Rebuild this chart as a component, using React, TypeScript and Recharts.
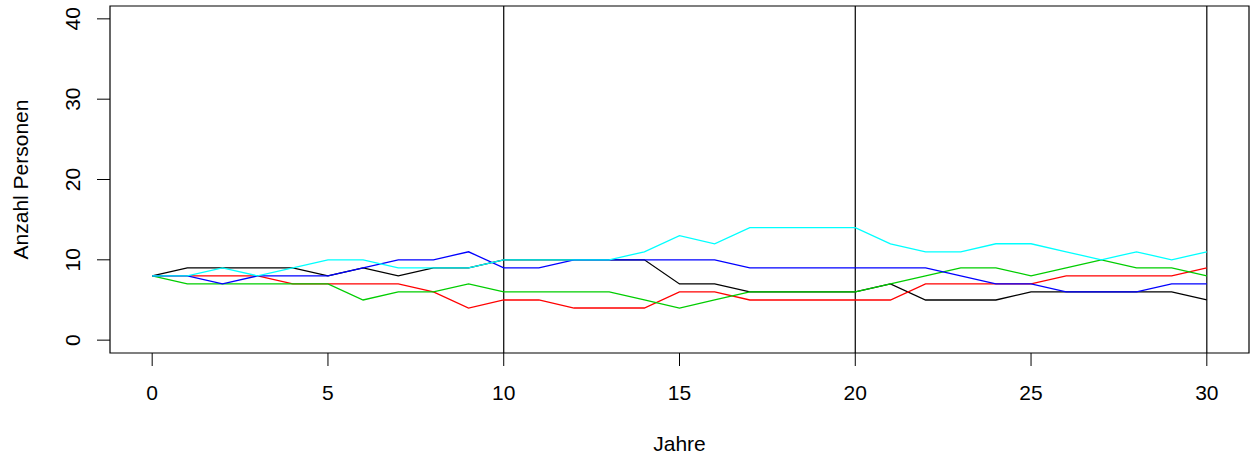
import React from 'react';
import { LineChart, Line, XAxis, YAxis, ReferenceLine, ReferenceArea } from 'recharts';

const years = Array.from({ length: 31 }, (_, i) => i);
const black = [8, 9, 9, 9, 9, 8, 9, 8, 9, 9, 10, 10, 10, 10, 10, 7, 7, 6, 6, 6, 6, 7, 5, 5, 5, 6, 6, 6, 6, 6, 5];
const red = [8, 8, 8, 8, 7, 7, 7, 7, 6, 4, 5, 5, 4, 4, 4, 6, 6, 5, 5, 5, 5, 5, 7, 7, 7, 7, 8, 8, 8, 8, 9];
const green = [8, 7, 7, 7, 7, 7, 5, 6, 6, 7, 6, 6, 6, 6, 5, 4, 5, 6, 6, 6, 6, 7, 8, 9, 9, 8, 9, 10, 9, 9, 8];
const blue = [8, 8, 7, 8, 8, 8, 9, 10, 10, 11, 9, 9, 10, 10, 10, 10, 10, 9, 9, 9, 9, 9, 9, 8, 7, 7, 6, 6, 6, 7, 7];
const cyan = [8, 8, 9, 8, 9, 10, 10, 9, 9, 9, 10, 10, 10, 10, 11, 13, 12, 14, 14, 14, 14, 12, 11, 11, 12, 12, 11, 10, 11, 10, 11];

const xTicks = [0, 5, 10, 15, 20, 25, 30];
const yTicks = [0, 10, 20, 30, 40];
const vLines = [10, 20, 30];

const series = [
  { key: 'black', color: '#000000' },
  { key: 'red', color: '#FF0000' },
  { key: 'green', color: '#00CD00' },
  { key: 'blue', color: '#0000FF' },
  { key: 'cyan', color: '#00FFFF' },
];

const data = years.map((y, i) => ({
  year: y,
  black: black[i],
  red: red[i],
  green: green[i],
  blue: blue[i],
  cyan: cyan[i],
}));

const FONT = '"Liberation Sans", Arial, Helvetica, sans-serif';
const FS = 21;

const XTick = (props: any) => {
  const { x, y, payload } = props;
  return (
    <text x={x} y={y + 34} textAnchor="middle" fontSize={FS} fontFamily={FONT} fill="#000">
      {payload.value}
    </text>
  );
};

const YTick = (props: any) => {
  const { x, y, payload } = props;
  const bx = x - 17;
  return (
    <text x={bx} y={y} transform={`rotate(-90, ${bx}, ${y})`} textAnchor="middle" fontSize={FS} fontFamily={FONT} fill="#000">
      {payload.value}
    </text>
  );
};

const XLabel = (props: any) => {
  const vb = props.viewBox;
  return (
    <text x={vb.x + vb.width / 2} y={vb.y + 98} textAnchor="middle" fontSize={FS} fontFamily={FONT} fill="#000">
      Jahre
    </text>
  );
};

const YLabel = (props: any) => {
  const vb = props.viewBox;
  const x = vb.x + 28;
  const y = vb.y + vb.height / 2;
  return (
    <text x={x} y={y} transform={`rotate(-90, ${x}, ${y})`} textAnchor="middle" fontSize={FS} fontFamily={FONT} fill="#000">
      Anzahl Personen
    </text>
  );
};

export default function App() {
  return (
    <div style={{ position: 'absolute', left: 0, top: 0, width: 1250, height: 462, background: '#fff' }}>
      <LineChart width={1250} height={462} data={data} margin={{ top: 6, right: 1, left: 0, bottom: 0 }}>
        <XAxis
          dataKey="year"
          type="number"
          domain={[-1.2, 31.2]}
          allowDataOverflow
          ticks={xTicks}
          tickSize={13}
          tickMargin={0}
          tickLine={{ stroke: '#000', strokeWidth: 1 }}
          axisLine={false}
          height={109}
          tick={<XTick />}
          label={<XLabel />}
        />
        <YAxis
          type="number"
          domain={[-1.6, 41.6]}
          allowDataOverflow
          ticks={yTicks}
          tickSize={13}
          tickMargin={0}
          tickLine={{ stroke: '#000', strokeWidth: 1 }}
          axisLine={false}
          width={110}
          tick={<YTick />}
          label={<YLabel />}
        />
        <ReferenceArea x1={-1.2} x2={31.2} y1={-1.6} y2={41.6} fill="none" fillOpacity={0} stroke="#000" strokeWidth={1.2} />
        {vLines.map((v) => (
          <ReferenceLine key={v} x={v} stroke="#000" strokeWidth={1.2} />
        ))}
        {series.map((s) => (
          <Line
            key={s.key}
            dataKey={s.key}
            stroke={s.color}
            strokeWidth={1.3}
            dot={false}
            activeDot={false}
            type="linear"
            isAnimationActive={false}
          />
        ))}
      </LineChart>
    </div>
  );
}
